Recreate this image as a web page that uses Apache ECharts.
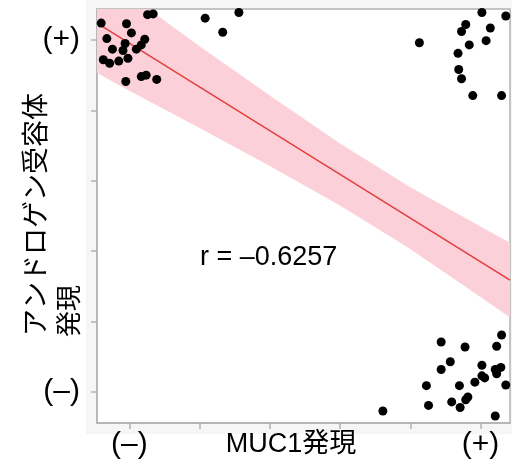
<!DOCTYPE html>
<html>
<head>
<meta charset="utf-8">
<script src="https://cdn.jsdelivr.net/npm/echarts@6/dist/echarts.min.js"></script>
<style>
html, body { margin: 0; padding: 0; background: #fff; }
#chart { width: 517px; height: 470px; }
</style>
</head>
<body>
<div id="chart"></div>
<script>
// tick positions and labels (0 = negative, 5 = positive)
var tickValues = [0, 1, 2, 3, 4, 5];
var xTickLabels = ['(–)', '', '', '', '', '(+)'];
var yTickLabels = ['(–)', '', '', '', '', '(+)'];

// MUC1 (x) / AR (y) scores
var pointsX = [-0.40, 0.26, 0.34, -0.04, 0.03, -0.32, -0.06, 0.22, 0.17, 0.10,
    -0.24, -0.09, -0.02, -0.15, -0.37, -0.28, -0.05, 0.17, 0.24, 0.39,
    1.08, 1.33, 1.56,
    5.02, 5.36, 4.79, 4.73, 5.14, 4.13, 4.84, 5.08, 4.68, 4.69, 4.73, 4.89, 5.30,
    5.30, 4.44, 4.78, 5.23, 4.57, 4.44, 5.02, 5.21, 5.29, 5.23, 5.02, 5.06, 4.92,
    4.23, 4.70, 5.36, 4.82, 4.79, 4.59, 4.26, 4.71, 3.61, 5.21];
var pointsY = [5.24, 5.36, 5.37, 5.23, 5.10, 5.02, 4.95, 5.01, 4.93, 4.87,
    4.87, 4.85, 4.74, 4.70, 4.72, 4.67, 4.41, 4.48, 4.50, 4.44,
    5.31, 5.11, 5.39,
    5.39, 5.34, 5.22, 5.12, 5.17, 4.96, 4.93, 4.99, 4.81, 4.58, 4.45, 4.21, 4.21,
    0.81, 0.71, 0.64, 0.65, 0.43, 0.32, 0.38, 0.32, 0.35, 0.26, 0.23, 0.20, 0.14,
    0.09, 0.09, 0.10, -0.07, -0.11, -0.14, -0.19, -0.22, -0.27, -0.34];

// fitted line and its confidence band
var fitX = [-0.46, 5.42];
var fitY = [5.24, 1.59];
var bandX = [-0.46, 0, 1, 2, 3, 4, 5, 5.42];
var bandLow = [4.53, 4.28, 3.75, 3.21, 2.65, 2.03, 1.35, 1.06];
var bandHigh = [5.95, 5.64, 4.91, 4.21, 3.53, 2.91, 2.35, 2.12];

var rText = 'r = –0.6257';

var font = '"Liberation Sans", "Noto Sans CJK JP", sans-serif';
var gray = '#b3b3b3';

function pairs(xs, ys) {
    var arr = [];
    for (var i = 0; i < xs.length; i++) {
        arr.push([xs[i], ys[i]]);
    }
    return arr;
}

var chart = echarts.init(document.getElementById('chart'));

var option = {
    animation: false,
    backgroundColor: '#fff',
    grid: {
        left: 97,
        top: 9,
        right: 7,
        bottom: 47,
        show: true,
        backgroundColor: '#fff',
        borderColor: gray,
        borderWidth: 1.5
    },
    graphic: [
        {
            type: 'rect', z: -10, silent: true,
            shape: { x: 86, y: 0, width: 426, height: 434 },
            style: { fill: '#f6f6f6' }
        },
        {
            type: 'text', z: 100,
            x: 38, y: 336, rotation: Math.PI / 2,
            style: { text: 'アンドロゲン受容体', font: '27px ' + font, fill: '#000',
                align: 'left', verticalAlign: 'middle' }
        },
        {
            type: 'text', z: 100,
            x: 71, y: 337, rotation: Math.PI / 2,
            style: { text: '発現', font: '26px ' + font, fill: '#000',
                align: 'left', verticalAlign: 'middle' }
        },
        {
            type: 'text', z: 100,
            x: 291, y: 445,
            style: { text: 'MUC1発現', font: '27px ' + font, fill: '#000',
                align: 'center', verticalAlign: 'middle' }
        },
        {
            type: 'text', z: 100,
            x: 200, y: 258,
            style: { text: rText, font: '27px ' + font, fill: '#000',
                align: 'left', verticalAlign: 'middle' }
        }
    ],
    xAxis: {
        type: 'value',
        min: -0.46,
        max: 5.42,
        axisLine: { show: true, onZero: false, lineStyle: { color: gray, width: 1.5 } },
        axisTick: { show: true, length: 6, customValues: tickValues,
            lineStyle: { color: gray, width: 1.5 } },
        axisLabel: {
            customValues: [0, 5],
            margin: 7,
            fontSize: 30,
            fontFamily: font,
            color: '#000',
            formatter: function (v) { return xTickLabels[Math.round(v)]; }
        },
        splitLine: { show: false }
    },
    yAxis: {
        type: 'value',
        min: -0.44,
        max: 5.44,
        axisLine: { show: true, onZero: false, lineStyle: { color: gray, width: 1.5 } },
        axisTick: { show: true, length: 6, customValues: tickValues,
            lineStyle: { color: gray, width: 1.5 } },
        axisLabel: {
            customValues: [0, 5],
            margin: 17,
            fontSize: 30,
            fontFamily: font,
            color: '#000',
            formatter: function (v) { return yTickLabels[Math.round(v)]; }
        },
        splitLine: { show: false }
    },
    series: [
        {
            type: 'custom',
            clip: true,
            silent: true,
            data: pairs(bandX, bandLow),
            renderItem: function (params, api) {
                if (params.dataIndex !== 0) return null;
                var pts = [];
                for (var i = 0; i < bandX.length; i++) {
                    pts.push(api.coord([bandX[i], bandHigh[i]]));
                }
                for (var j = bandX.length - 1; j >= 0; j--) {
                    pts.push(api.coord([bandX[j], bandLow[j]]));
                }
                return {
                    type: 'polygon',
                    shape: { points: pts },
                    style: { fill: '#fcd0d9' }
                };
            },
            z: 1
        },
        {
            type: 'line',
            data: pairs(fitX, fitY),
            symbol: 'none',
            lineStyle: { color: '#e2403f', width: 1.6 },
            z: 2
        },
        {
            type: 'scatter',
            data: pairs(pointsX, pointsY),
            symbolSize: 9,
            itemStyle: { color: '#000', opacity: 1 },
            z: 3
        }
    ]
};

chart.setOption(option);
</script>
</body>
</html>
